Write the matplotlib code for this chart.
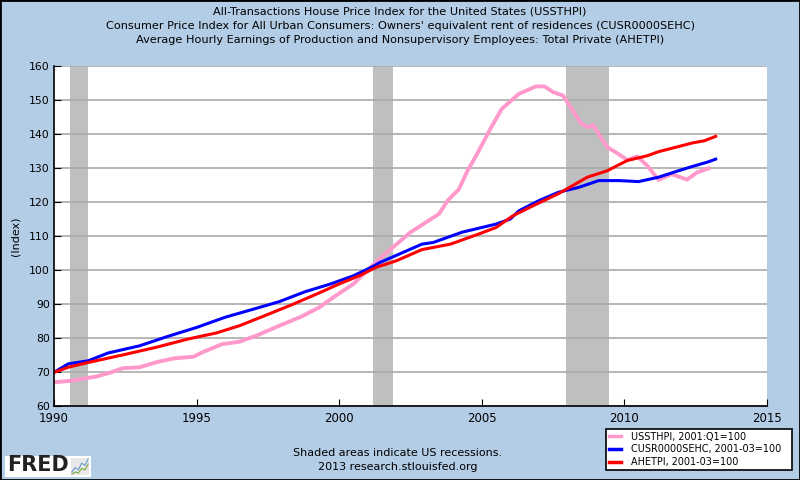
import matplotlib
matplotlib.use('Agg')
import matplotlib.pyplot as plt
from matplotlib.patches import Rectangle

# house price index (pink), owners' equivalent rent (blue), hourly earnings (red)
hpi_years = [1990.0, 1990.6, 1991.5, 1992.0, 1992.4, 1993.0, 1993.6, 1994.2, 1994.9,
             1995.2, 1995.9, 1996.5, 1997.1, 1997.9, 1998.7, 1999.3, 1999.8, 2000.5,
             2001.0, 2001.4, 2002.5, 2003.5, 2003.8, 2004.2, 2004.5, 2004.8, 2005.3,
             2005.7, 2006.3, 2006.9, 2007.2, 2007.5, 2007.85, 2008.15, 2008.5, 2008.75,
             2008.9, 2009.4, 2009.7, 2010.1, 2010.45, 2010.8, 2011.2, 2011.65, 2011.95,
             2012.2, 2012.55, 2012.95]
hpi_vals = [67.0, 67.4, 68.7, 69.9, 71.1, 71.4, 72.9, 74.0, 74.5,
            75.8, 78.2, 78.9, 80.7, 83.6, 86.4, 89.0, 92.0, 95.9,
            100.0, 103.2, 111.1, 116.5, 120.4, 123.8, 129.2, 133.6, 141.5,
            147.4, 151.8, 154.0, 154.0, 152.3, 151.3, 147.4, 142.9, 142.0,
            142.6, 136.1, 134.6, 132.4, 133.4, 130.7, 126.5, 128.2, 127.3,
            126.6, 128.7, 129.9]

oer_years = [1990.0, 1990.5, 1991.2, 1991.9, 1993.0, 1994.0, 1995.0, 1996.0, 1997.0,
             1997.9, 1998.8, 1999.7, 2000.5, 2001.2, 2001.4, 2002.9, 2003.3, 2004.3,
             2005.5, 2006.0, 2006.3, 2007.0, 2007.7, 2008.4, 2009.1, 2009.8, 2010.5,
             2011.2, 2011.9, 2012.4, 2012.9, 2013.2]
oer_vals = [69.9, 72.4, 73.3, 75.6, 77.7, 80.5, 83.1, 86.1, 88.5,
            90.7, 93.6, 95.9, 98.3, 101.1, 102.1, 107.6, 108.1, 111.1,
            113.5, 115.0, 117.4, 120.4, 122.9, 124.3, 126.3, 126.3, 126.0,
            127.3, 129.2, 130.5, 131.7, 132.6]

ahe_years = [1990.0, 1990.5, 1991.2, 1992.4, 1993.6, 1994.7, 1995.7, 1996.5, 1997.4,
             1998.4, 1999.2, 2000.0, 2000.7, 2001.3, 2002.0, 2002.9, 2003.9, 2004.9,
             2005.5, 2006.1, 2006.8, 2007.7, 2008.7, 2009.4, 2010.1, 2010.8, 2011.2,
             2011.8, 2012.4, 2012.8, 2013.2]
ahe_vals = [69.9, 71.4, 72.8, 75.0, 77.3, 79.7, 81.5, 83.6, 86.6,
            90.0, 92.9, 95.9, 98.3, 100.8, 102.7, 106.0, 107.6, 110.6,
            112.5, 116.0, 118.9, 122.5, 127.3, 129.2, 132.2, 133.6, 134.8,
            136.1, 137.4, 138.0, 139.3]

recessions = [(1990.55, 1991.2), (2001.2, 2001.9), (2007.95, 2009.45)]

titles = ['All-Transactions House Price Index for the United States (USSTHPI)',
          "Consumer Price Index for All Urban Consumers: Owners' equivalent rent of residences (CUSR0000SEHC)",
          'Average Hourly Earnings of Production and Nonsupervisory Employees: Total Private (AHETPI)']
labels = ['USSTHPI, 2001:Q1=100', 'CUSR0000SEHC, 2001-03=100', 'AHETPI, 2001-03=100']

bg = '#b4cde6'
pink = '#ff99cc'
blue = '#0000ff'
red = '#ff0000'

fig = plt.figure(figsize=(8, 4.8), dpi=100, facecolor=bg)
ax = fig.add_axes([54/800, 1-406/480, 713/800, 340/480])
ax.set_facecolor('white')

for a, b in recessions:
    ax.axvspan(a, b, color='#bfbfbf', lw=0, zorder=1)

ax.plot(hpi_years, hpi_vals, color=pink, lw=2.8, zorder=3, label=labels[0])
ax.plot(oer_years, oer_vals, color=blue, lw=2.2, zorder=4, label=labels[1])
ax.plot(ahe_years, ahe_vals, color=red, lw=2.2, zorder=5, label=labels[2])

ax.set_xlim(1990, 2015)
ax.set_ylim(60, 160)
ax.set_yticks(range(60, 161, 10))
ax.set_xticks(range(1990, 2016, 5))
ax.yaxis.grid(True, color='#aaaaaa', lw=1.2, zorder=2)
ax.set_axisbelow(False)
for s in ['top', 'right']:
    ax.spines[s].set_visible(False)
for s in ['left', 'bottom']:
    ax.spines[s].set_linewidth(1.2)
    ax.spines[s].set_zorder(6)
ax.tick_params(axis='x', direction='in', length=5, labelsize=8.5, pad=4)
ax.tick_params(axis='y', direction='in', length=5, labelsize=7.8, pad=3)
ax.set_ylabel('(Index)', fontsize=8, labelpad=6)

for i, t in enumerate(titles):
    fig.text(0.5, 1 - (12 + 13.8*i)/480, t, ha='center', va='center', fontsize=8.15)

fig.text(398/800, 1-453/480, 'Shaded areas indicate US recessions.', ha='center',
         va='center', fontsize=8)
fig.text(398/800, 1-467/480, '2013 research.stlouisfed.org', ha='center',
         va='center', fontsize=8)

leg = ax.legend(loc='lower left', bbox_to_anchor=(601/800, 5/480, 196/800, 42/480),
                bbox_transform=fig.transFigure, mode='expand', fontsize=6.9,
                frameon=True, fancybox=False, framealpha=1, handlelength=1.3,
                handletextpad=1.0, borderpad=0.3, labelspacing=0.3)
leg.get_frame().set_edgecolor('black')
leg.get_frame().set_linewidth(1.2)
for h in leg.get_lines():
    h.set_linewidth(2.5)

# FRED logo
fig.patches.append(Rectangle((5/800, 3/480), 86/800, 21/480, transform=fig.transFigure,
                             facecolor='white', edgecolor='none', zorder=1))
fig.text(7/800, 1-465/480, 'FRED', ha='left', va='center', fontsize=15,
         fontweight='heavy', color='#222222', zorder=3)
icon = fig.add_axes([71/800, 5/480, 18/800, 17/480], zorder=3)
icon.set_facecolor('#e8e8e8')
icon.plot([0, 1, 2, 3, 4, 5], [1, 2, 1.5, 3, 2.5, 4], color='#6a9ccf', lw=0.8)
icon.plot([0, 1, 2, 3, 4, 5], [0.5, 1, 0.8, 1.8, 1.5, 2.8], color='#7aaa3a', lw=0.8)
icon.set_xticks([])
icon.set_yticks([])
for s in icon.spines.values():
    s.set_visible(False)

# outer border
fig.patches.append(Rectangle((0, 0), 1, 1, transform=fig.transFigure, fill=False,
                             edgecolor='black', lw=2))

fig.savefig('out.png', dpi=100, facecolor=bg)
